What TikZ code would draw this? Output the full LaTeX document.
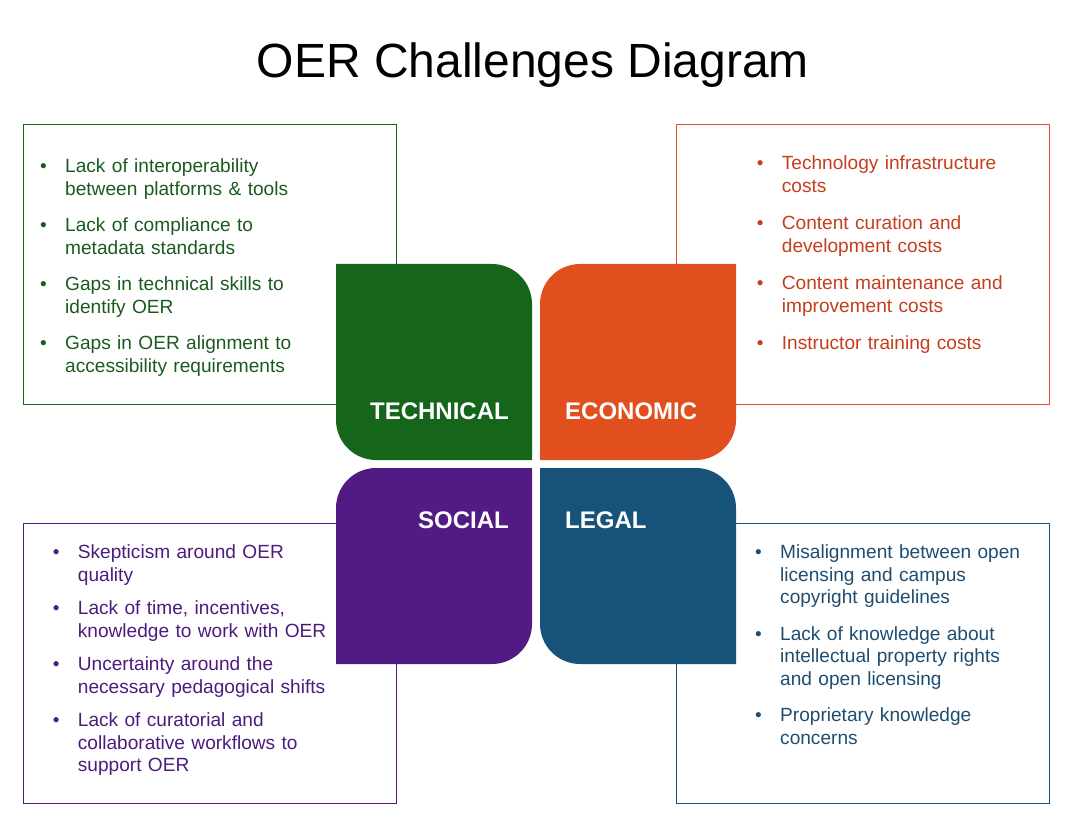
\documentclass[tikz,border=0pt]{standalone}
\usepackage{fontspec}
\setmainfont{Liberation Sans}
\usetikzlibrary{positioning}
\definecolor{techgreen}{HTML}{15651A}
\definecolor{econorange}{HTML}{E04F1D}
\definecolor{socpurple}{HTML}{521A83}
\definecolor{legalblue}{HTML}{175378}
\definecolor{techtext}{HTML}{1B5A1F}
\definecolor{econtext}{HTML}{C63D1B}
\definecolor{soctext}{HTML}{4B1C7E}
\definecolor{legaltext}{HTML}{1F4D70}
\tikzstyle{challengebox} = [rectangle, draw, line width=1.2pt, inner sep=0pt,
    minimum width=373pt, minimum height=280pt, anchor=north west]
\tikzstyle{tilelabel} = [text=white, inner sep=0pt,
    font=\fontsize{24}{28}\selectfont\bfseries]
\tikzstyle{challengelist} = [inner sep=0pt, text width=340pt, anchor=base west,
    font=\fontsize{19.1}{22.7}\selectfont]
\newcommand{\itemgap}[1]{\setlength{\parskip}{#1}}
\newcommand{\linebrk}{\hfil\break}
\newcommand{\challenge}[1]{\hangindent=25pt\hangafter=1
    \makebox[25pt][l]{\textbullet}#1\par}

\begin{document}
\begin{tikzpicture}[x=1pt, y=-1pt]
            \useasboundingbox (0,0) rectangle (1066,818);
            % Title
            \node[font=\fontsize{48}{56}\selectfont, anchor=base] (title) at (533,78) {OER Challenges Diagram};
            % Outline boxes
            \node[challengebox, draw=techgreen] (techbox) at (23,124) {};
            \node[challengebox, draw=econorange] (econbox) at (675.5,124) {};
            \node[challengebox, draw=socpurple] (socbox) at (23,523) {};
            \node[challengebox, draw=legalblue] (legalbox) at (675.5,523) {};
            % Tiles
            \fill[techgreen] (336,264) -- (492,264) .. controls (514,264) and (532,282) .. (532,304)
                -- (532,460) -- (376,460) .. controls (354,460) and (336,442) .. (336,420) -- cycle;
            \fill[econorange] (580,264) -- (736,264) -- (736,420) .. controls (736,442) and (718,460) .. (696,460)
                -- (540,460) -- (540,304) .. controls (540,282) and (558,264) .. (580,264) -- cycle;
            \fill[socpurple] (376,468) -- (532,468) -- (532,624) .. controls (532,646) and (514,664) .. (492,664)
                -- (336,664) -- (336,508) .. controls (336,486) and (354,468) .. (376,468) -- cycle;
            \fill[legalblue] (540,468) -- (696,468) .. controls (718,468) and (736,486) .. (736,508)
                -- (736,664) -- (580,664) .. controls (558,664) and (540,646) .. (540,624) -- cycle;
            % Tile labels
            \node[tilelabel, anchor=base east] (technical) at (509,419) {TECHNICAL};
            \node[tilelabel, anchor=base west] (economic) at (565,419) {ECONOMIC};
            \node[tilelabel, anchor=base east] (social) at (509,528) {SOCIAL};
            \node[tilelabel, anchor=base west] (legal) at (565,528) {LEGAL};
            % Lists
            \node[challengelist, text=techtext] (techlist) at (40,172.7) {\itemgap{13.6pt}%
                \challenge{Lack of interoperability\linebrk between platforms \& tools}
                \challenge{Lack of compliance to\linebrk metadata standards}
                \challenge{Gaps in technical skills to\linebrk identify OER}
                \challenge{Gaps in OER alignment to\linebrk accessibility requirements}};
            \node[challengelist, text=econtext] (econlist) at (756.7,170) {\itemgap{14.3pt}%
                \challenge{Technology infrastructure\linebrk costs}
                \challenge{Content curation and\linebrk development costs}
                \challenge{Content maintenance and\linebrk improvement costs}
                \challenge{Instructor training costs}};
            \node[challengelist, text=soctext] (soclist) at (52.7,558.3) {\itemgap{10.6pt}%
                \challenge{Skepticism around OER\linebrk quality}
                \challenge{Lack of time, incentives,\linebrk knowledge to work with OER}
                \challenge{Uncertainty around the\linebrk necessary pedagogical shifts}
                \challenge{Lack of curatorial and\linebrk collaborative workflows to\linebrk support OER}};
            \node[challengelist, text=legaltext] (legallist) at (755,558.3) {\itemgap{13.6pt}%
                \challenge{Misalignment between open\linebrk licensing and campus\linebrk copyright guidelines}
                \challenge{Lack of knowledge about\linebrk intellectual property rights\linebrk and open licensing}
                \challenge{Proprietary knowledge\linebrk concerns}};
\end{tikzpicture}
\end{document}
